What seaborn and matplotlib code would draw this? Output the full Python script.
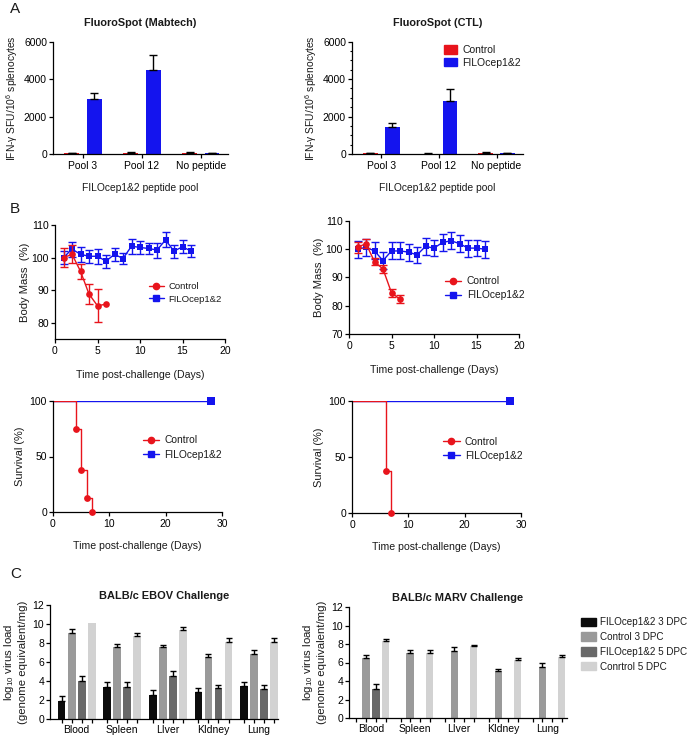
import numpy as np
import pandas as pd
import matplotlib
matplotlib.use("Agg")
import matplotlib.pyplot as plt
import seaborn as sns
from matplotlib.lines import Line2D
from matplotlib.patches import Patch
from matplotlib.container import BarContainer
from matplotlib.ticker import MultipleLocator, FixedLocator

# ---------------- data ----------------
RED = "#e8141c"
BLUE = "#1414ee"

pools = ["Pool 3", "Pool 12", "No peptide"]
groups_a = ["Control", "FILOcep1&2"]
mab_ctrl = [50, 60, 60]
mab_ctrl_err = [30, 40, 50]
mab_filo = [2920, 4490, 50]
mab_filo_err = [320, 800, 20]
ctl_ctrl = [30, 20, 70]
ctl_ctrl_err = [20, 10, 25]
ctl_filo = [1450, 2810, 30]
ctl_filo_err = [180, 680, 15]

ctrl_days = [1, 2, 3, 4, 5, 6]
filo_days = list(range(1, 17))
ebov_ctrl_mass = [100, 101, 95.8, 88.8, 85.2, 85.7]
ebov_ctrl_err = [3, 2.8, 2.3, 3, 5, np.nan]
ebov_filo_mass = [100, 102.6, 101, 100.4, 100.4, 98.9, 101, 99.7, 103.5, 103.1,
                  102.8, 102.3, 105.4, 102, 103.3, 102]
ebov_filo_err = [2, 2.3, 2.3, 2, 2.3, 2, 2, 1.8, 2.3, 2, 1.8, 2.3, 2.3, 2, 2, 1.8]
marv_ctrl_mass = [100.7, 102, 95.6, 93, 84.6, 82.3]
marv_ctrl_err = [2, 1.5, 1.3, 1.5, 1.5, 1.5]
marv_filo_mass = [100, 100.7, 99.4, 96, 99.4, 99.4, 99, 98, 101, 100.4,
                  102.4, 103, 102, 100.4, 100.4, 100]
marv_filo_err = [3, 3, 3, 3, 3, 3, 3, 2.7, 3, 2.7, 3, 3, 3, 3, 2.7, 3]

surv_days_ebov = [0, 4, 5, 6, 7]
surv_ebov = [100, 75, 37.5, 12.5, 0]
surv_days_marv = [0, 6, 7]
surv_marv = [100, 37.5, 0]
filo_surv_days = [0, 28]
filo_surv = [100, 100]

organs = ["Blood", "Spleen", "LIver", "KIdney", "Lung"]
c_series = ["FILOcep1&2 3 DPC", "Control 3 DPC", "FILOcep1&2 5 DPC", "Conrtrol 5 DPC"]
c_colors = ["#0c0c0c", "#9a9a9a", "#696969", "#d2d2d2"]
ebov_vals = {
    "FILOcep1&2 3 DPC": [1.85, 3.35, 2.55, 2.8, 3.5],
    "Control 3 DPC": [9.1, 7.6, 7.6, 6.5, 6.8],
    "FILOcep1&2 5 DPC": [3.95, 3.4, 4.55, 3.25, 3.15],
    "Conrtrol 5 DPC": [10.1, 8.7, 9.4, 8.15, 8.15],
}
ebov_errs = {
    "FILOcep1&2 3 DPC": [0.6, 0.5, 0.55, 0.45, 0.35],
    "Control 3 DPC": [0.4, 0.25, 0.2, 0.3, 0.45],
    "FILOcep1&2 5 DPC": [0.55, 0.5, 0.5, 0.3, 0.45],
    "Conrtrol 5 DPC": [np.nan, 0.35, 0.25, 0.4, 0.35],
}
marv_vals = {
    "FILOcep1&2 3 DPC": [0, 0, 0, 0, 0],
    "Control 3 DPC": [6.45, 7.0, 7.25, 5.1, 5.55],
    "FILOcep1&2 5 DPC": [3.15, 0, 0, 0, 0],
    "Conrtrol 5 DPC": [8.3, 7.0, 7.75, 6.3, 6.6],
}
marv_errs = {
    "FILOcep1&2 3 DPC": [np.nan] * 5,
    "Control 3 DPC": [0.33, 0.3, 0.45, 0.2, 0.35],
    "FILOcep1&2 5 DPC": [0.5, np.nan, np.nan, np.nan, np.nan],
    "Conrtrol 5 DPC": [0.22, 0.3, 0.12, 0.18, 0.22],
}

# ---------------- style ----------------
sns.set_theme(style="ticks")
plt.rcParams.update({
    "font.family": ["Liberation Sans", "DejaVu Sans"],
    "mathtext.fontset": "custom",
    "mathtext.rm": "Liberation Sans",
    "mathtext.it": "Liberation Sans:italic",
    "mathtext.bf": "Liberation Sans:bold",
    "axes.linewidth": 0.9,
    "axes.edgecolor": "black",
    "xtick.major.width": 0.9,
    "ytick.major.width": 0.9,
    "xtick.major.size": 2.8,
    "ytick.major.size": 2.8,
    "xtick.labelsize": 7.5,
    "ytick.labelsize": 7.5,
    "xtick.color": "black",
    "ytick.color": "black",
    "text.color": "#1a1a1a",
    "axes.labelcolor": "#1a1a1a",
    "xtick.major.pad": 2,
    "ytick.major.pad": 1.5,
})

W, H = 694, 737
fig = plt.figure(figsize=(W / 100, H / 100), dpi=100)


def rect(x0, x1, y0, y1):
    return [x0 / W, 1 - y1 / H, (x1 - x0) / W, (y1 - y0) / H]


def finish(ax):
    sns.despine(ax=ax)


def bar_containers(ax):
    return [c for c in ax.containers if isinstance(c, BarContainer)]


# ---------------- panel A ----------------
def fluoro(ax, ctrl, cerr, filo, ferr, title, legend, minor):
    df = pd.DataFrame({"pool": pools * 2,
                       "group": ["Control"] * 3 + ["FILOcep1&2"] * 3,
                       "val": ctrl + filo})
    sns.barplot(data=df, x="pool", y="val", hue="group", order=pools,
                hue_order=groups_a, palette=[RED, BLUE], width=0.76, gap=0.34,
                errorbar=None, legend=False, saturation=1, linewidth=0, ax=ax)
    for cont, errs in zip(bar_containers(ax), [cerr, ferr]):
        for bar, e in zip(cont, errs):
            xc = bar.get_x() + bar.get_width() / 2
            ax.errorbar(xc, bar.get_height(), yerr=[[0], [e]], fmt="none",
                        ecolor="black", elinewidth=1, capsize=3, capthick=1)
    ax.set_ylim(0, 6000)
    ax.set_xlim(-0.51, 2.46)
    ax.set_yticks([0, 2000, 4000, 6000])
    if minor:
        ax.yaxis.set_minor_locator(MultipleLocator(500))
        ax.tick_params(axis="y", which="minor", length=1.8, width=0.8)
    ax.set_title(title, fontsize=7.8, fontweight="bold", pad=11)
    ax.set_xlabel("FILOcep1&2 peptide pool", fontsize=7.4, labelpad=9)
    ax.set_ylabel("IFN-γ SFU/10$^{6}$ splenocytes", fontsize=7.4, labelpad=3)
    if legend:
        hs = [Patch(color=RED), Patch(color=BLUE)]
        ax.legend(hs, groups_a, loc="upper left", bbox_to_anchor=(0.54, 0.97),
                  frameon=False, fontsize=7.5, borderpad=0, borderaxespad=0,
                  handlelength=1.2, handleheight=0.9, handletextpad=0.5,
                  labelspacing=0.25)
    finish(ax)


axA1 = fig.add_axes(rect(53, 228, 41.7, 154))
fluoro(axA1, mab_ctrl, mab_ctrl_err, mab_filo, mab_filo_err,
       "FluoroSpot (Mabtech)", False, False)
axA2 = fig.add_axes(rect(352, 523, 41.7, 154))
fluoro(axA2, ctl_ctrl, ctl_ctrl_err, ctl_filo, ctl_filo_err,
       "FluoroSpot (CTL)", True, True)


# ---------------- panel B body mass ----------------
def legend_lines(ax, x, y, fs):
    hs = [Line2D([], [], color=RED, marker="o", markersize=4.5, lw=1),
          Line2D([], [], color=BLUE, marker="s", markersize=4.5, lw=1)]
    ax.legend(hs, groups_a, loc="upper left", bbox_to_anchor=(x, y),
              frameon=False, fontsize=fs, borderpad=0, borderaxespad=0,
              handlelength=1.6, handletextpad=0.5, labelspacing=0.4)


def mass(ax, cm, ce, fm, fe, ylim, yticks, lx, ly, fs):
    dfc = pd.DataFrame({"day": ctrl_days, "mass": cm})
    dff = pd.DataFrame({"day": filo_days, "mass": fm})
    sns.lineplot(data=dff, x="day", y="mass", color=BLUE, marker="s",
                 markersize=5, markeredgewidth=0, lw=1, ax=ax)
    ax.errorbar(filo_days, fm, yerr=fe, fmt="none", ecolor=BLUE,
                elinewidth=1, capsize=3, capthick=1)
    sns.lineplot(data=dfc, x="day", y="mass", color=RED, marker="o",
                 markersize=4.8, markeredgewidth=0, lw=1, ax=ax)
    ax.errorbar(ctrl_days, cm, yerr=ce, fmt="none", ecolor=RED,
                elinewidth=1, capsize=3, capthick=1)
    ax.set_xlim(0, 20)
    ax.set_xticks([0, 5, 10, 15, 20])
    ax.set_ylim(*ylim)
    ax.set_yticks(yticks)
    ax.set_xlabel("Time post-challenge (Days)", fontsize=7.6, labelpad=10)
    ax.set_ylabel("Body Mass  (%)", fontsize=8.1, labelpad=1.5)
    legend_lines(ax, lx, ly, fs)
    finish(ax)


axB1 = fig.add_axes(rect(55, 225, 225, 339))
mass(axB1, ebov_ctrl_mass, ebov_ctrl_err, ebov_filo_mass, ebov_filo_err,
     (75, 110), [80, 90, 100, 110], 0.55, 0.5, 6.8)
axB2 = fig.add_axes(rect(349, 519, 221, 334))
mass(axB2, marv_ctrl_mass, marv_ctrl_err, marv_filo_mass, marv_filo_err,
     (70, 110), [70, 80, 90, 100, 110], 0.565, 0.51, 7.4)


# ---------------- panel B survival ----------------
def survival(ax, sd, sv, lx, ly):
    sns.lineplot(x=filo_surv_days, y=filo_surv, color=BLUE, lw=1,
                 drawstyle="steps-post", ax=ax)
    sns.scatterplot(x=filo_surv_days[1:], y=filo_surv[1:], color=BLUE,
                    marker="s", s=26, linewidth=0, ax=ax, clip_on=False, zorder=4)
    sns.lineplot(x=sd, y=sv, color=RED, lw=1, drawstyle="steps-post", ax=ax)
    sns.scatterplot(x=sd[1:], y=sv[1:], color=RED, marker="o", s=24,
                    linewidth=0, ax=ax, clip_on=False, zorder=4)
    ax.set_xlim(0, 30)
    ax.set_xticks([0, 10, 20, 30])
    ax.set_ylim(0, 100)
    ax.set_yticks([0, 50, 100])
    ax.set_xlabel("Time post-challenge (Days)", fontsize=7.6, labelpad=9)
    ax.set_ylabel("Survival (%)", fontsize=7.9, labelpad=3)
    legend_lines(ax, lx, ly, 7.4)
    finish(ax)


axS1 = fig.add_axes(rect(53, 222, 401, 512))
survival(axS1, surv_days_ebov, surv_ebov, 0.53, 0.69)
axS2 = fig.add_axes(rect(352, 521, 401, 513))
survival(axS2, surv_days_marv, surv_marv, 0.54, 0.68)


# ---------------- panel C ----------------
def virus(ax, vals, errs, title, xlim):
    rows = []
    for s in c_series:
        for o, v in zip(organs, vals[s]):
            rows.append({"organ": o, "series": s, "val": v})
    df = pd.DataFrame(rows)
    sns.barplot(data=df, x="organ", y="val", hue="series", order=organs,
                hue_order=c_series, palette=c_colors, width=0.88, gap=0.23,
                errorbar=None, legend=False, saturation=1, linewidth=0, ax=ax)
    bcs = bar_containers(ax)
    for cont, s in zip(bcs, c_series):
        for bar, e in zip(cont, errs[s]):
            if np.isnan(e):
                continue
            xc = bar.get_x() + bar.get_width() / 2
            ax.errorbar(xc, bar.get_height(), yerr=[[0], [e]], fmt="none",
                        ecolor="black", elinewidth=1, capsize=2, capthick=1)
    centers = sorted(b.get_x() + b.get_width() / 2 for c in bcs for b in c)
    ax.xaxis.set_minor_locator(FixedLocator(centers))
    ax.tick_params(axis="x", which="minor", length=2.8, width=0.9)
    ax.tick_params(axis="x", which="major", length=0, pad=4.5)
    ax.set_xlim(*xlim)
    ax.set_ylim(0, 12)
    ax.set_yticks(range(0, 13, 2))
    ax.set_xlabel("")
    ax.set_ylabel("log$_{10}$ virus load\n(genome equivalent/mg)",
                  fontsize=8.2, labelpad=3, linespacing=1.3)
    ax.set_title(title, fontsize=7.9, fontweight="bold", pad=4)
    finish(ax)


axC1 = fig.add_axes(rect(50, 278, 605, 719))
virus(axC1, ebov_vals, ebov_errs, "BALB/c EBOV Challenge", (-0.585, 4.415))
axC2 = fig.add_axes(rect(349, 567, 607, 718))
virus(axC2, marv_vals, marv_errs, "BALB/c MARV Challenge", (-0.5, 4.45))

fig.legend([Patch(color=c) for c in c_colors], c_series, loc="upper left",
           bbox_to_anchor=(581 / W, 1 - 617 / H), frameon=False, fontsize=7.1,
           borderpad=0, borderaxespad=0, handlelength=1.5, handleheight=0.9,
           handletextpad=0.45, labelspacing=0.5)

# panel letters
for letter, y in [("A", 13), ("B", 213), ("C", 578)]:
    fig.text(10 / W, 1 - y / H, letter, fontsize=11, va="baseline",
             ha="left", color="#1a1a1a")

fig.savefig("out.png", dpi=100)
